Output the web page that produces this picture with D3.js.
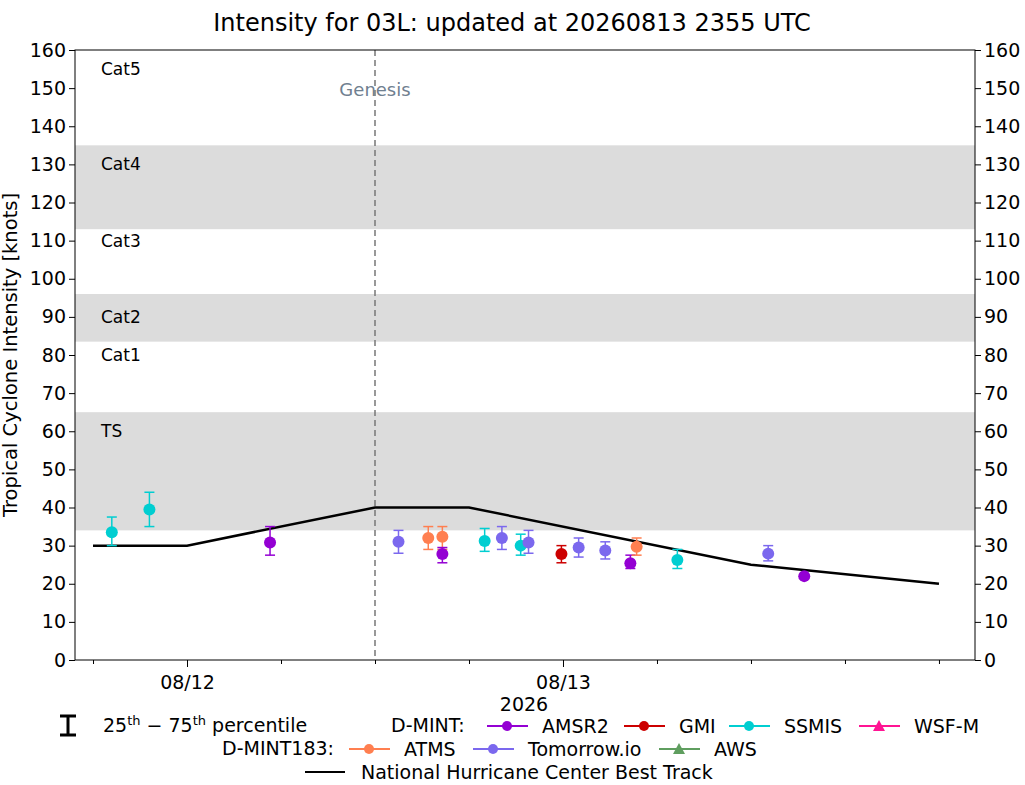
<!DOCTYPE html>
<html><head><meta charset="utf-8">
<script src="https://cdn.jsdelivr.net/npm/d3@7"></script>
<style>body{margin:0;background:#fff;font-family:"DejaVu Sans",sans-serif}</style>
</head><body><div id="chart"></div>
<script>
// hours relative to 2026-08-12 00 UTC
var bestTrackHours = [-6, 0, 12, 18, 36, 48];
var bestTrackKts = [30, 30, 40, 40, 25, 20];
var obsSensor = ["SSMIS","SSMIS","AMSR2","Tomorrow.io","ATMS","ATMS","AMSR2","SSMIS","Tomorrow.io","SSMIS","Tomorrow.io","GMI","Tomorrow.io","Tomorrow.io","AMSR2","ATMS","SSMIS","Tomorrow.io","AMSR2"];
var obsHours = [-4.8,-2.4,5.3,13.5,15.4,16.3,16.3,19.0,20.1,21.3,21.8,23.9,25.0,26.7,28.3,28.7,31.3,37.1,39.4];
var obsKts = [33.5,39.5,30.8,31,32,32.3,27.8,31.2,32,30,30.8,27.8,29.5,28.7,25.4,29.7,26.2,27.9,22];
var obsLo = [30,35,27.5,28,29,29,25.5,28.5,29,27.5,28,25.5,27,26.5,24,27.5,24,26,22];
var obsHi = [37.5,44,35,34,35,35,29.5,34.5,35,33,34,30,32,31,27.5,32,29,30,22];
var bandLo = [34, 83.5, 113];
var bandHi = [65, 96, 135];
var catNames = ["Cat5","Cat4","Cat3","Cat2","Cat1","TS"];
var catKts = [155,130,110,90,80,60];
var yTicks = d3.range(0, 161, 10);
var genesisHour = 12;
var colors = {"AMSR2":"#9400d3","GMI":"#cc0000","SSMIS":"#00ced1","WSF-M":"#ff1493","ATMS":"#ff7f50","Tomorrow.io":"#7b68ee","AWS":"#5f9e5f"};

var svg = d3.select("#chart").append("svg").attr("width",1025).attr("height",785);
var L = 75, R = 975, T = 50, B = 660;
var x = d3.scaleLinear().domain([-7.15, 50.3]).range([L, R]);
var y = d3.scaleLinear().domain([0, 160]).range([B, T]);

svg.selectAll(".band").data(bandLo).enter().append("rect")
  .attr("x", L).attr("width", R - L)
  .attr("y", (d,i) => y(bandHi[i])).attr("height", (d,i) => y(d) - y(bandHi[i]))
  .attr("fill", "#dcdcdc");

svg.selectAll(".cat").data(catNames).enter().append("text")
  .attr("x", 101).attr("y", (d,i) => y(catKts[i]) + 6)
  .attr("font-size", 17).text(d => d);

svg.append("line").attr("x1", x(genesisHour)).attr("x2", x(genesisHour))
  .attr("y1", T).attr("y2", B).attr("stroke", "#777").attr("stroke-width", 1.5)
  .attr("stroke-dasharray", "6,4");
svg.append("text").attr("x", x(genesisHour)).attr("y", 96).attr("text-anchor","middle")
  .attr("font-size", 18).attr("fill", "#708090").text("Genesis");

var line = d3.line().x((d,i) => x(d)).y((d,i) => y(bestTrackKts[i]));
svg.append("path").attr("d", line(bestTrackHours)).attr("fill","none")
  .attr("stroke","#000").attr("stroke-width",2.5);

var g = svg.selectAll(".obs").data(obsHours).enter().append("g");
g.append("line").attr("x1", d => x(d)).attr("x2", d => x(d))
  .attr("y1", (d,i) => y(obsLo[i])).attr("y2", (d,i) => y(obsHi[i]))
  .attr("stroke", (d,i) => colors[obsSensor[i]]).attr("stroke-width", 1.5);
[obsLo, obsHi].forEach(function(arr){
  g.append("line").attr("x1", d => x(d) - 5).attr("x2", d => x(d) + 5)
    .attr("y1", (d,i) => y(arr[i])).attr("y2", (d,i) => y(arr[i]))
    .attr("stroke", (d,i) => colors[obsSensor[i]]).attr("stroke-width", 1.5)
    .attr("display", (d,i) => obsLo[i] === obsHi[i] ? "none" : null);
});
g.append("circle").attr("cx", d => x(d)).attr("cy", (d,i) => y(obsKts[i])).attr("r", 6)
  .attr("fill", (d,i) => colors[obsSensor[i]]);

svg.append("rect").attr("x", L).attr("y", T).attr("width", R - L).attr("height", B - T)
  .attr("fill", "none").attr("stroke", "#000");

var yl = svg.append("g").attr("transform", `translate(${L},0)`).call(d3.axisLeft(y).tickValues(yTicks).tickSizeOuter(0).tickSize(6));
var yr = svg.append("g").attr("transform", `translate(${R},0)`).call(d3.axisRight(y).tickValues(yTicks).tickSizeOuter(0).tickSize(6));
var xa = svg.append("g").attr("transform", `translate(0,${B})`)
  .call(d3.axisBottom(x).tickValues([0, 24]).tickFormat((d) => d === 0 ? "08/12" : "08/13").tickSize(7).tickSizeOuter(0));
svg.append("g").attr("transform", `translate(0,${B})`)
  .call(d3.axisBottom(x).tickValues([-6,6,12,18,30,36,42,48]).tickFormat("").tickSize(4).tickSizeOuter(0));
svg.selectAll(".domain").remove();
svg.selectAll(".tick text").attr("font-size", 19).attr("font-family", "DejaVu Sans").attr("fill", "#000");
xa.selectAll(".tick text").attr("dy", "1.0em");

svg.append("text").attr("x", 524).attr("y", 711).attr("text-anchor","middle").attr("font-size",19).text("2026");
svg.append("text").attr("transform","translate(17,355) rotate(-90)").attr("text-anchor","middle").attr("font-size",19.5).text("Tropical Cyclone Intensity [knots]");
svg.append("text").attr("x", 512).attr("y", 31).attr("text-anchor","middle").attr("font-size",24).text("Intensity for 03L: updated at 20260813 2355 UTC");

// legend
var lg = svg.append("g");
lg.append("path").attr("d","M60,716H76M68,716V735M60,735H76").attr("stroke","#000").attr("stroke-width",3).attr("fill","none");
var pt = lg.append("text").attr("x",103).attr("y",732).attr("font-size",19);
pt.append("tspan").text("25");
pt.append("tspan").attr("baseline-shift","super").attr("font-size",13).text("th");
pt.append("tspan").text(" \u2212 75");
pt.append("tspan").attr("baseline-shift","super").attr("font-size",13).text("th");
pt.append("tspan").text(" percentile");
lg.append("text").attr("x",391).attr("y",732).attr("font-size",19).text("D-MINT:");
lg.append("text").attr("x",222).attr("y",755).attr("font-size",19).text("D-MINT183:");
var items = [["AMSR2",487,726,"c"],["GMI",624,726,"c"],["SSMIS",729,726,"c"],["WSF-M",859,726,"t"],
             ["ATMS",349,749,"c"],["Tomorrow.io",473,749,"c"],["AWS",659,749,"t"]];
items.forEach(function(it){
  var c = colors[it[0]], xx = it[1], yy = it[2];
  lg.append("line").attr("x1",xx).attr("x2",xx+41).attr("y1",yy).attr("y2",yy).attr("stroke",c).attr("stroke-width",2);
  if (it[3] === "c") lg.append("circle").attr("cx",xx+20).attr("cy",yy).attr("r",5).attr("fill",c);
  else lg.append("path").attr("d",`M${xx+20},${yy-6}L${xx+26},${yy+5}L${xx+14},${yy+5}Z`).attr("fill",c);
  lg.append("text").attr("x",xx+55).attr("y",yy+7).attr("font-size",19).text(it[0]);
});
lg.append("line").attr("x1",305).attr("x2",345).attr("y1",772).attr("y2",772).attr("stroke","#000").attr("stroke-width",2);
lg.append("text").attr("x",361).attr("y",779).attr("font-size",19).text("National Hurricane Center Best Track");
</script></body></html>
